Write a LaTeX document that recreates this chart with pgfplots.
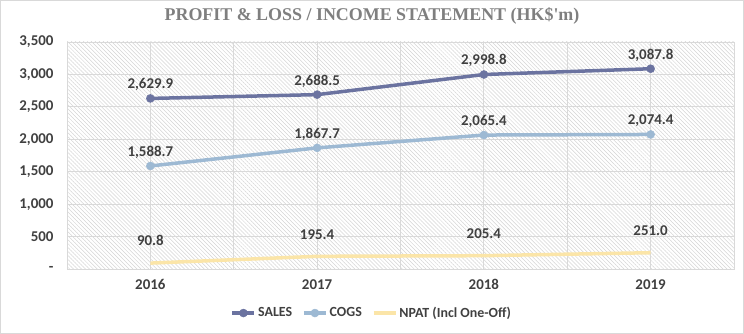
\documentclass[border=0pt]{standalone}
\usepackage{pgfplots}
\pgfplotsset{compat=1.18}
\usepackage{fontspec}
\setmainfont{Carlito}
\newfontfamily\titlefont{Liberation Serif}
\usetikzlibrary{patterns.meta}
\definecolor{salesc}{HTML}{6B73A0}
\definecolor{cogsc}{HTML}{9DB9D3}
\definecolor{npatc}{HTML}{FBE5A8}
\definecolor{gridc}{HTML}{D9D9D9}
\definecolor{txtc}{HTML}{404040}
\definecolor{titlec}{HTML}{7F7F7F}
\definecolor{hatchc}{HTML}{D4D4D4}
\begin{document}
\begin{tikzpicture}
\path[use as bounding box] (-67bp,-65bp) rectangle (677bp,269bp);
\draw[gridc, line width=1bp] (-66.5bp,-64.5bp) rectangle (676.5bp,268.5bp);
\begin{axis}[
  at={(0,0)}, anchor=south west,
  scale only axis, width=667bp, height=227bp,
  xmin=-0.5, xmax=3.5, ymin=0, ymax=3500,
  xtick={0,1,2,3}, xticklabels={2016,2017,2018,2019},
  minor xtick={-0.5,0.5,1.5,2.5,3.5},
  ytick={0,500,1000,1500,2000,2500,3000,3500},
  yticklabels={-,500,{1,000},{1,500},{2,000},{2,500},{3,000},{3,500}},
  major tick length=0pt, minor tick length=0pt,
  xmajorgrids, xminorgrids, ymajorgrids,
  grid style={gridc, line width=0.8bp},
  minor grid style={gridc, line width=0.8bp},
  axis line style={gridc, line width=0.8bp},
  axis background/.style={pattern={Lines[angle=-45, distance=2.8bp, line width=0.5bp]}, pattern color=hatchc},
  tick label style={font=\fontsize{15}{18}\selectfont\bfseries, text=txtc},
  xticklabel style={yshift=-7bp},
  yticklabel style={xshift=-10bp},
  point meta=explicit symbolic,
  nodes near coords,
  nodes near coords style={font=\fontsize{15}{18}\selectfont\bfseries, text=txtc, anchor=south, yshift=4bp},
  legend style={at={(0.457,-0.194)}, anchor=center, draw=none, fill=none,
    legend columns=-1, font=\fontsize{14}{16}\selectfont\bfseries, text=txtc,
    /tikz/every even column/.append style={column sep=8bp}},
  legend image code/.code={
    \draw[#1] (0bp,0bp) -- (22bp,0bp);
    \path[#1, mark repeat=1] plot coordinates {(11bp,0bp)};
  },
  clip=false,
]
\addplot[salesc, line width=3.5bp, mark=*, mark size=4bp, mark options={solid, fill=salesc, draw=salesc, line width=0.5bp}]
  table[meta=label] {
x y label
0 2629.9 2,629.9
1 2688.5 2,688.5
2 2998.8 2,998.8
3 3087.8 3,087.8
};
\addlegendentry{SALES}
\addplot[cogsc, line width=3.5bp, mark=*, mark size=4bp, mark options={solid, fill=cogsc, draw=cogsc, line width=0.5bp}]
  table[meta=label] {
x y label
0 1588.7 1,588.7
1 1867.7 1,867.7
2 2065.4 2,065.4
3 2074.4 2,074.4
};
\addlegendentry{COGS}
\addplot[npatc, line width=3.5bp, mark=none, nodes near coords style={yshift=8bp}]
  table[meta=label] {
x y label
0 90.8 90.8
1 195.4 195.4
2 205.4 205.4
3 251.0 251.0
};
\addlegendentry{NPAT (Incl One-Off)}
\end{axis}
\node[font=\titlefont\fontsize{18}{21}\selectfont\bfseries, text=titlec] at (305bp,253bp) {PROFIT \& LOSS / INCOME STATEMENT (HK\$'m)};
\end{tikzpicture}
\end{document}
